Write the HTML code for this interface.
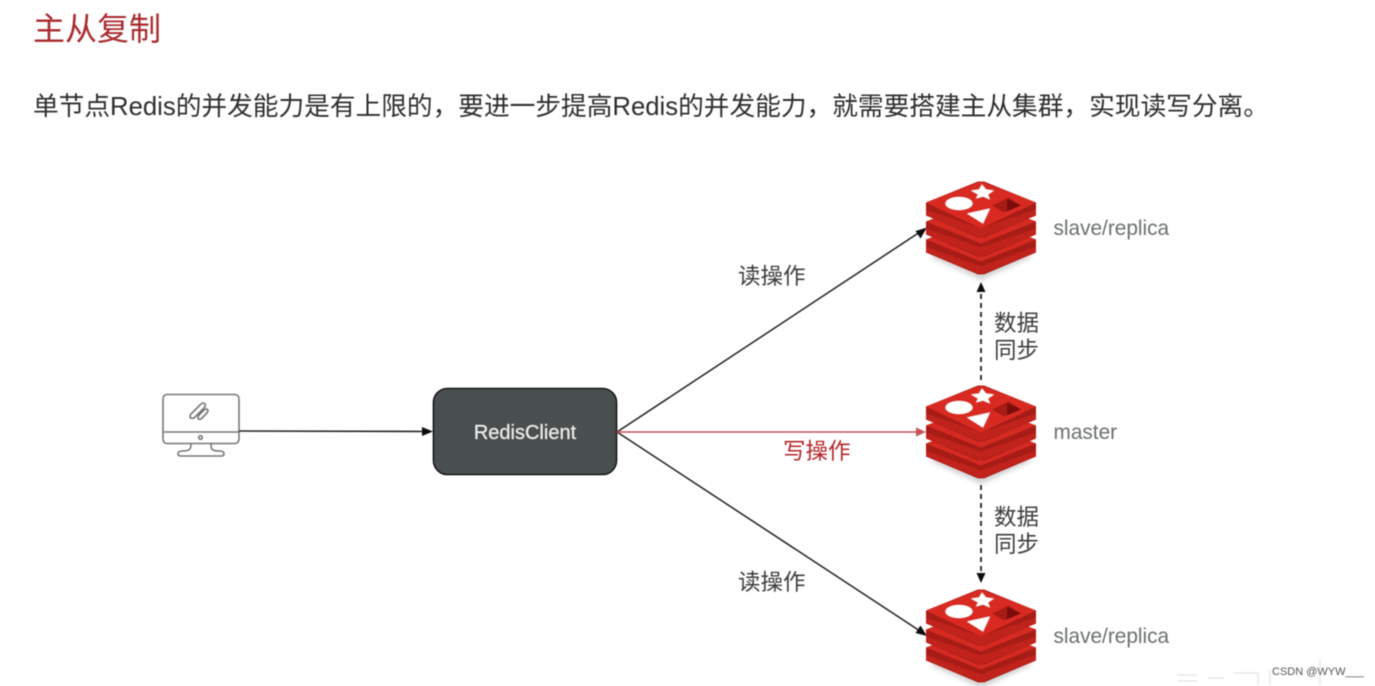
<!DOCTYPE html>
<html lang="zh">
<head>
<meta charset="utf-8">
<style>
html,body{margin:0;padding:0;background:#fff}
#p{position:relative;width:1375px;height:686px;overflow:hidden;background:#fff}
svg{position:absolute;left:0;top:0}
text{font-family:"Liberation Sans","Noto Sans CJK SC",sans-serif}
</style>
</head>
<body>
<div id="p">
<svg width="1375" height="686" viewBox="0 0 1375 686" xmlns="http://www.w3.org/2000/svg">
<defs>
<filter id="b" x="-10%" y="-10%" width="120%" height="130%"><feGaussianBlur stdDeviation="0.5"/></filter>
<filter id="s" x="-20%" y="-20%" width="140%" height="140%"><feGaussianBlur stdDeviation="2"/></filter>
<g id="r">
<polygon points="-52,75 0,99 52,75 0,54" fill="#888" opacity=".35" filter="url(#s)"/>
<path d="M-55,58 L-3,38 H3 L55,58 V71 L3,93 H-3 L-55,71Z" fill="#a71e16"/><polygon points="-55,58 0,80 55,58 0,38" fill="#d42a20"/>
<path d="M-55,40 L-3,20 H3 L55,40 V53 L3,75 H-3 L-55,53Z" fill="#a71e16"/><polygon points="-55,40 0,62 55,40 0,20" fill="#d42a20"/>
<path d="M-55,21 L-3,0 H3 L55,21 V34 L3,56 H-3 L-55,34Z" fill="#a71e16"/><polygon points="-55,21 0,47 55,21 0,0" fill="#d92b20"/>
<polygon points="-55,28 0,47 55,28 55,34 0,56 -55,34" fill="#c0241b"/>
<polygon points="-55,47 0,66 55,47 55,53 0,75 -55,53" fill="#c0241b"/>
<polygon points="-55,65 0,85 55,65 55,71 0,93 -55,71" fill="#c0241b"/>
<polygon points="-10,9 -2,8 1,3 5,8 13,9 7,13 9,18 2,15 -5,17 -3,13" fill="#fff"/>
<ellipse cx="-22" cy="22" rx="13.500" ry="6.500" fill="#fff"/>
<polygon points="-14,32 9,27 2,42" fill="#fff"/>
<polygon points="11,24 28,16 40,24 23,31" fill="#a81c14"/>
<polygon points="26,17 40,24 26,30" fill="#7d0f0a"/>
</g>
</defs>

<g filter="url(#b)">
<text x="33" y="40" font-size="32" fill="#a92c2e">主从复制</text>
<text x="33" y="115" font-size="25.700" fill="#2f2f2f">单节点Redis的并发能力是有上限的，要进一步提高Redis的并发能力，就需要搭建主从集群，实现读写分离。</text>

<!-- monitor -->
<g fill="none" stroke="#777" stroke-width="1.600">
<rect x="163" y="394.500" width="76" height="49" rx="4"/>
<line x1="163" y1="432" x2="239" y2="432"/>
<circle cx="200.500" cy="437.500" r="1.800"/>
<path d="M191,444 C191,450 189,451 182,451 Q178,451 178,454 Q178,456 181,456 H221 Q224,456 224,454 Q224,451 220,451 C212,451 211,450 211,444"/>
<path d="M191,414 L201,404 Q204,402 205,404 Q206,406 204,408 L194,418 Q191,419 190,417 Q190,415 191,414Z"/>
<path d="M199,415 L204,410 Q207,408 208,410 Q208,412 206,414 L201,419 Q198,420 198,418 Q198,416 199,415Z"/>
</g>

<!-- client -->
<rect x="433.500" y="388.500" width="183" height="86" rx="14" fill="#4a4f4f" stroke="#111" stroke-width="1.600"/>
<text x="525" y="439" font-size="20" fill="#eee" text-anchor="middle">RedisClient</text>

<!-- arrows -->
<line x1="239" y1="431" x2="424" y2="431.500" stroke="#222" stroke-width="1.600"/>
<polygon points="433,431.500 422,427 422,436" fill="#111"/>
<line x1="617" y1="432" x2="920" y2="232" stroke="#222" stroke-width="1.500"/>
<polygon points="927,227.500 915.500,231 920.500,238.500" fill="#111"/>
<line x1="617" y1="432" x2="920" y2="631" stroke="#222" stroke-width="1.500"/>
<polygon points="927,636 920.500,625.500 915.500,633" fill="#111"/>
<line x1="617" y1="432" x2="918" y2="432" stroke="#c4525a" stroke-width="1.500"/>
<polygon points="926,432 916,427.500 916,436.500" fill="#c4525a"/>
<line x1="981" y1="380" x2="981" y2="292" stroke="#222" stroke-width="1.800" stroke-dasharray="5 4"/>
<polygon points="981,282 976.500,292 985.500,292" fill="#111"/>
<line x1="981" y1="485" x2="981" y2="574" stroke="#222" stroke-width="1.800" stroke-dasharray="5 4"/>
<polygon points="981,583 976.500,573 985.500,573" fill="#111"/>

<!-- redis -->
<use href="#r" x="981" y="181.500"/>
<use href="#r" x="981" y="385.500"/>
<use href="#r" x="981" y="589.500"/>

<!-- labels -->
<g font-size="22.500" fill="#3d3d3d">
<text x="738" y="284">读操作</text>
<text x="738" y="590">读操作</text>
<text x="994" y="331">数据</text>
<text x="994" y="358">同步</text>
<text x="994" y="525">数据</text>
<text x="994" y="552">同步</text>
</g>
<text x="783" y="459" font-size="22.500" fill="#b5272c">写操作</text>
<g font-size="20.800" fill="#6b6f6f">
<text x="1053.500" y="235">slave/replica</text>
<text x="1053.500" y="439">master</text>
<text x="1053.500" y="643">slave/replica</text>
</g>

<!-- watermark -->
<g stroke="#e8e8e8" stroke-width="1.500" fill="none">
<path d="M1177,675 H1197 M1177,681 H1197 M1208,678 H1224 M1233,673 H1258 V685 M1270,670 V685 M1320,660 V685"/>
</g>
<text x="1272" y="675" font-size="11" fill="#555">CSDN @WYW___</text>
</g>
</svg>
</div>
</body>
</html>
